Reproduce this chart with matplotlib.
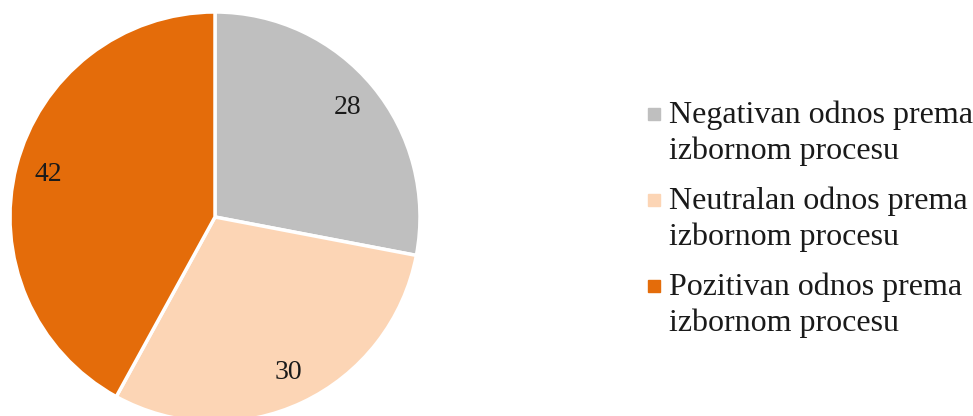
import matplotlib.pyplot as plt
from matplotlib.patches import Rectangle

# === DATA ===
categories = ['Negativan odnos prema\nizbornom procesu',
              'Neutralan odnos prema\nizbornom procesu',
              'Pozitivan odnos prema\nizbornom procesu']
values = [28, 30, 42]
colors = ['#BFBFBF', '#FCD5B5', '#E46C0A']

plt.rcParams['font.family'] = ['Liberation Serif', 'DejaVu Serif']

W, H = 973, 416
fig = plt.figure(figsize=(W / 100, H / 100), dpi=100)
# pie centred at about (215, 217) px, radius ~205 px
ax = fig.add_axes([10 / W, -6 / H, 410 / W, 410 / H])

wedges, texts, autotexts = ax.pie(
    values, colors=colors, startangle=90, counterclock=False,
    autopct=lambda p: f'{p * sum(values) / 100:.0f}', pctdistance=0.84,
    wedgeprops=dict(edgecolor='white', linewidth=2.5),
    textprops=dict(fontsize=20, color='#1a1a1a'))
ax.set_aspect('equal')
ax.set_xlim(-1, 1)
ax.set_ylim(-1, 1)

# legend drawn by hand: marker sits on the first line of each entry
first_base = 123   # px from top
entry_step = 86
line_step = 36
for i, (lab, col) in enumerate(zip(categories, colors)):
    base = first_base + i * entry_step
    fig.patches.append(Rectangle((648 / W, 1 - (base - 3) / H), 12 / W, 12 / H,
                                 transform=fig.transFigure, color=col))
    for j, line in enumerate(lab.split('\n')):
        fig.text(669 / W, 1 - (base + j * line_step) / H, line,
                 fontsize=23, color='#1a1a1a', ha='left', va='baseline')

fig.savefig('out.png', dpi=100)
